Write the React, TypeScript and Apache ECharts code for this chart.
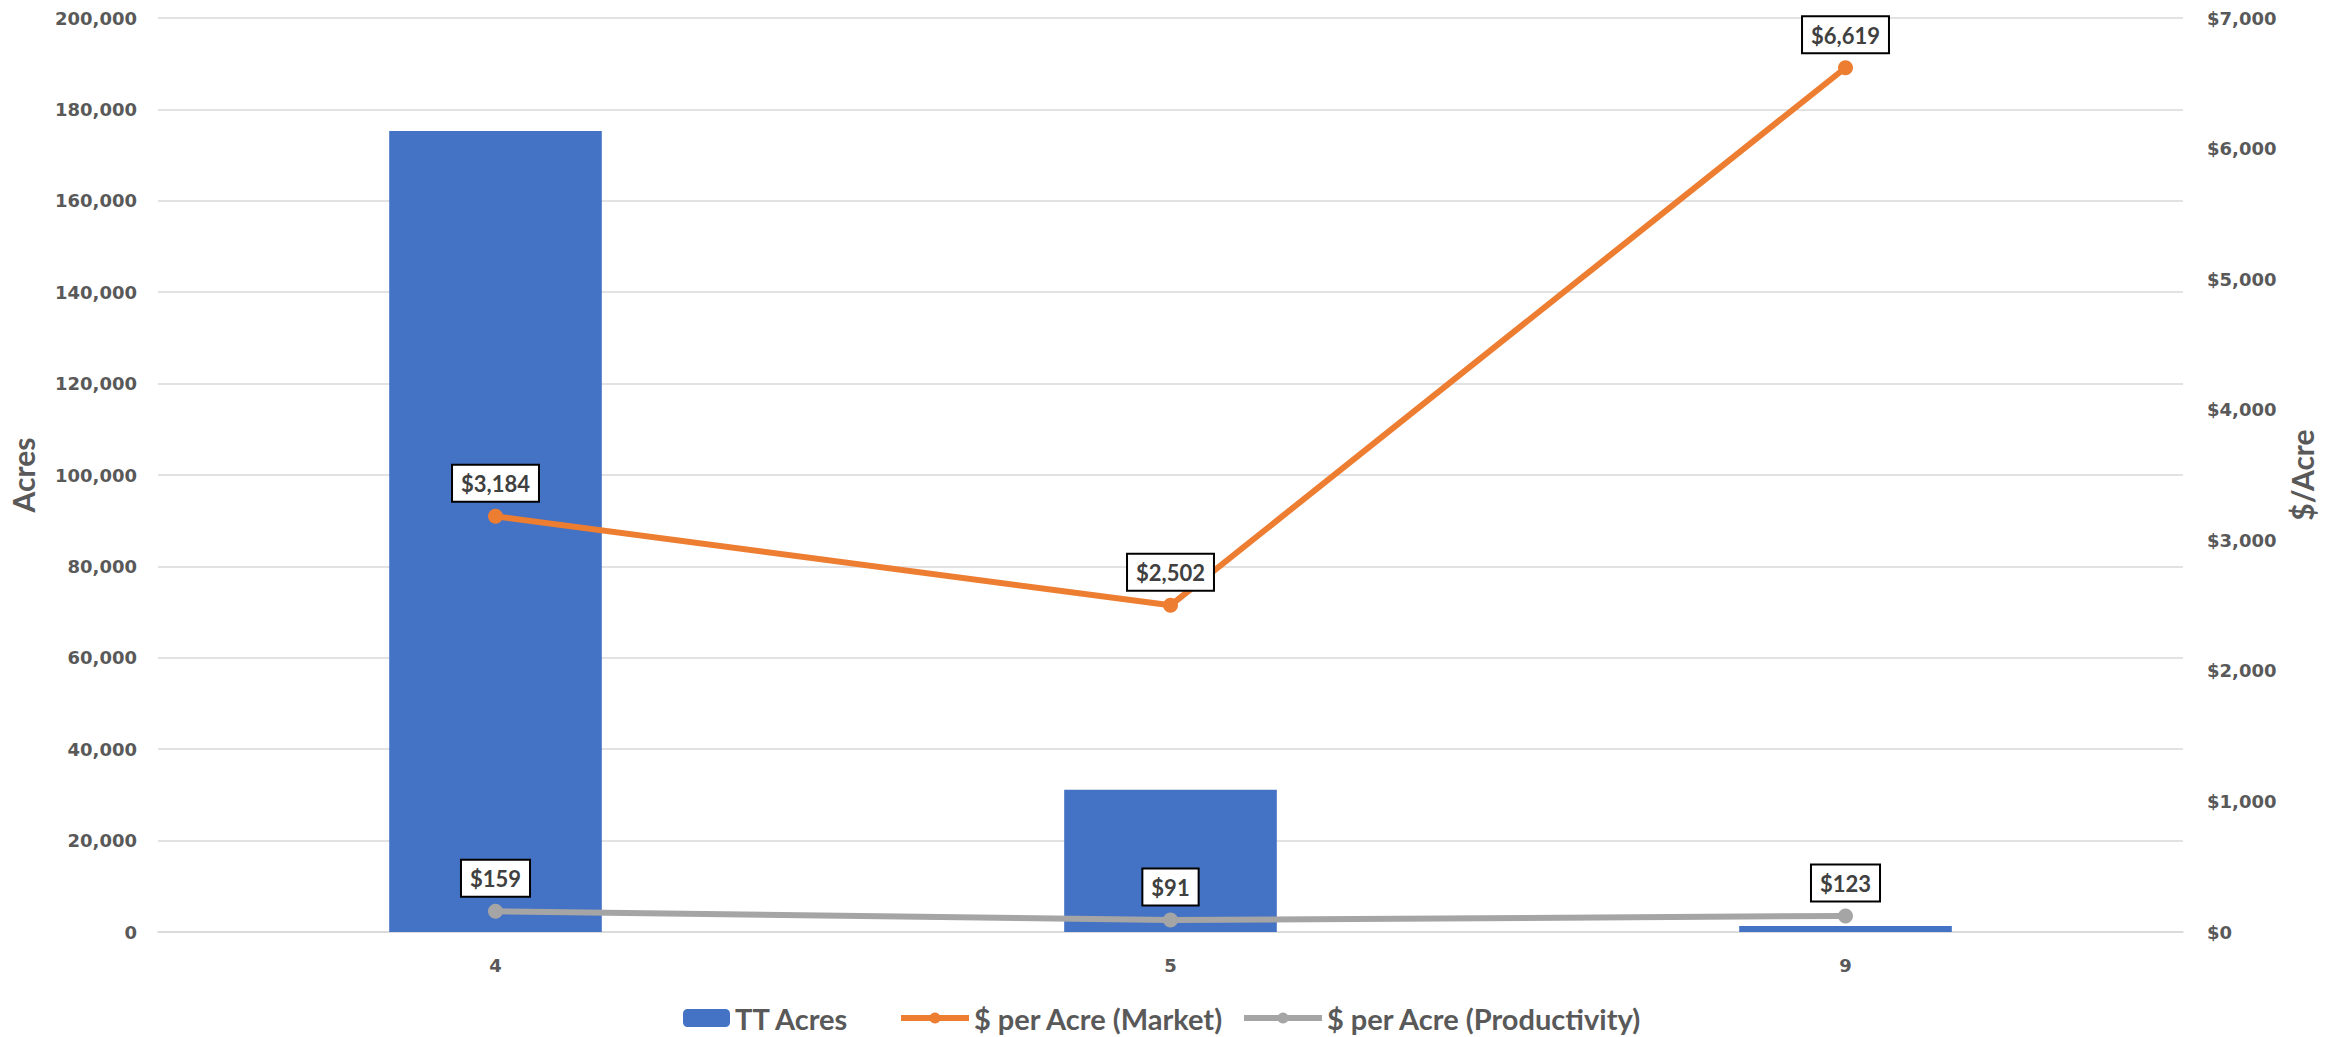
import React, { useEffect, useRef } from "react";
import * as echarts from "echarts";

// Land categories on the x axis
const categories = ["4", "5", "9"];
// Total acres per category (left axis)
const ttAcres = [175300, 31100, 1300];
// Dollars per acre (right axis)
const marketPerAcre = [3184, 2502, 6619];
const productivityPerAcre = [159, 91, 123];

const leftTicks = { min: 0, max: 200000, interval: 20000 };
const rightTicks = { min: 0, max: 7000, interval: 1000 };

const BLUE = "#4472C4";
const ORANGE = "#ED7D31";
const GRAY = "#A5A5A5";
const TEXT = "#595959";
const GRID = "#D9D9D9";

const fmtComma = (v: number) => v.toLocaleString("en-US");
const fmtDollar = (v: number) => "$" + v.toLocaleString("en-US");

const pointLabel = {
  show: true,
  position: "top",
  distance: 8,
  formatter: (p: any) => fmtDollar(p.value),
  fontFamily: "Lato",
  fontWeight: "bold",
  fontSize: 22,
  color: "#404040",
  backgroundColor: "#FFFFFF",
  borderColor: "#000000",
  borderWidth: 2,
  padding: [7, 8, 6, 8],
};

const legendText = {
  fontFamily: "Lato",
  fontWeight: "bold",
  fontSize: 29,
  lineHeight: 30,
  color: TEXT,
};

const tickFont = {
  fontFamily: "DejaVu Sans",
  fontWeight: "bold",
  fontSize: 18,
  color: TEXT,
};

const axisNameFont = { fontFamily: "Lato", fontWeight: "bold", fontSize: 30, color: TEXT };

const legendBase = { top: 1003, padding: 0, textStyle: legendText };

export default function App() {
  const ref = useRef<HTMLDivElement>(null);

  useEffect(() => {
    document.body.style.margin = "0";
    if (!ref.current) return;
    const chart = echarts.init(ref.current, null, { renderer: "svg" });
    chart.setOption({
      animation: false,
      backgroundColor: "#FFFFFF",
      grid: { left: 150, right: 158, top: 18, bottom: 105, containLabel: false },
      legend: [
        {
          ...legendBase,
          data: ["TT Acres"],
          left: 683,
          itemWidth: 47,
          itemHeight: 18,
        },
        {
          ...legendBase,
          data: ["$ per Acre (Market)"],
          left: 898,
          itemWidth: 68,
          itemHeight: 14,
          lineStyle: { width: 6 },
        },
        {
          ...legendBase,
          data: ["$ per Acre (Productivity)"],
          left: 1241,
          itemWidth: 78,
          itemHeight: 14,
          lineStyle: { width: 6 },
        },
      ],
      xAxis: {
        type: "category",
        data: categories,
        boundaryGap: true,
        axisLine: { lineStyle: { color: GRID, width: 1.5 } },
        axisTick: { show: false },
        axisLabel: { ...tickFont, margin: 24 },
      },
      yAxis: [
        {
          type: "value",
          position: "left",
          ...leftTicks,
          name: "Acres",
          nameLocation: "middle",
          nameRotate: 90,
          nameGap: 120,
          nameTextStyle: axisNameFont,
          axisLine: { show: false },
          axisTick: { show: false },
          splitLine: { lineStyle: { color: GRID, width: 1.5 } },
          axisLabel: { ...tickFont, formatter: fmtComma, margin: 21 },
        },
        {
          type: "value",
          position: "right",
          ...rightTicks,
          name: "$/Acre",
          nameLocation: "middle",
          nameRotate: 90,
          nameGap: 103,
          nameTextStyle: axisNameFont,
          axisLine: { show: false },
          axisTick: { show: false },
          splitLine: { show: false },
          axisLabel: { ...tickFont, formatter: fmtDollar, margin: 24 },
        },
      ],
      series: [
        {
          name: "TT Acres",
          type: "bar",
          yAxisIndex: 0,
          data: ttAcres,
          barWidth: "31.5%",
          itemStyle: { color: BLUE },
        },
        {
          name: "$ per Acre (Market)",
          type: "line",
          yAxisIndex: 1,
          data: marketPerAcre,
          symbol: "circle",
          symbolSize: 15,
          lineStyle: { color: ORANGE, width: 6 },
          itemStyle: { color: ORANGE },
          label: pointLabel,
          z: 3,
        },
        {
          name: "$ per Acre (Productivity)",
          type: "line",
          yAxisIndex: 1,
          data: productivityPerAcre,
          symbol: "circle",
          symbolSize: 15,
          lineStyle: { color: GRAY, width: 6 },
          itemStyle: { color: GRAY },
          label: pointLabel,
          z: 3,
        },
      ],
    });
    return () => chart.dispose();
  }, []);

  return (
    <div
      ref={ref}
      style={{ position: "fixed", left: 0, top: 0, width: 2341, height: 1037 }}
    />
  );
}
